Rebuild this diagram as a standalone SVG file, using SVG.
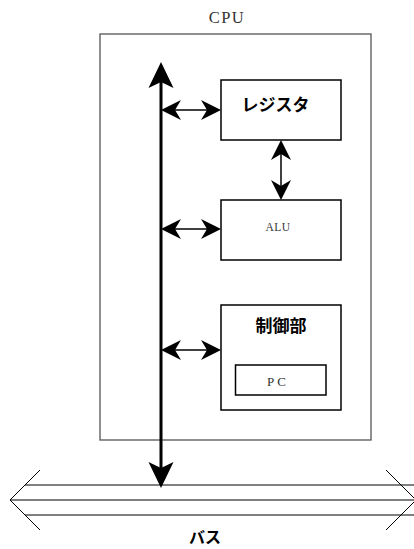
<svg xmlns="http://www.w3.org/2000/svg" width="414" height="549" viewBox="0 0 414 549">
<style>
.box{fill:#fff;stroke:#000;stroke-width:1.5}
.cpu{fill:none;stroke:#555;stroke-width:1.3}
.mono{font-family:'Liberation Serif',serif;fill:#333;text-anchor:middle}
.jp{font-family:'Noto Sans CJK JP',sans-serif;font-weight:bold;fill:#000;text-anchor:middle}
.thin{stroke:#000;stroke-width:1.5;fill:none}
.thick{stroke:#000;stroke-width:3;fill:none}
.bus{stroke:#000;stroke-width:1;fill:none}
</style>
<defs>
<marker id="ah" markerUnits="userSpaceOnUse" viewBox="-1 -11 22 22" markerWidth="22" markerHeight="22" refX="16" refY="0" orient="auto-start-reverse">
<path d="M0,-10 L20,0 L0,10 L6,0 Z" fill="#000"/>
</marker>
<marker id="ahb" markerUnits="userSpaceOnUse" viewBox="-1 -14 28 28" markerWidth="28" markerHeight="28" refX="22" refY="0" orient="auto-start-reverse">
<path d="M0,-12.5 L26,0 L0,12.5 L6,0 Z" fill="#000"/>
</marker>
</defs>
<g id="cpu">
<rect class="cpu" x="100" y="34" width="271" height="406"/>
<text class="mono" x="227" y="23" font-size="16.5" letter-spacing="1.5">CPU</text>
</g>
<g id="register">
<rect class="box" x="221" y="80" width="120" height="60"/>
<text class="jp" x="275.5" y="111" font-size="17">レジスタ</text>
</g>
<g id="alu">
<rect class="box" x="221" y="200" width="120" height="60"/>
<text class="mono" x="278" y="231" font-size="11.5" letter-spacing="0.5">ALU</text>
</g>
<g id="control">
<rect class="box" x="221" y="305" width="120" height="105"/>
<text class="jp" x="281" y="332" font-size="17">制御部</text>
</g>
<g id="pc">
<rect class="box" x="235.5" y="365" width="90.5" height="30"/>
<text class="mono" x="278" y="386" font-size="13" letter-spacing="3">PC</text>
</g>
<g id="bus">
<path class="bus" d="M40,470 L10,500 L40,530 M386,470 L414,498 M386,530 L414,502"/>
<path class="bus" d="M25,485 H414 M10,500 H414 M25,515 H414"/>
<text class="jp" x="205" y="543" font-size="16">バス</text>
</g>
<g id="connectors">
<line class="thick" x1="161" y1="66" x2="161" y2="484" marker-start="url(#ahb)" marker-end="url(#ahb)"/>
<line class="thin" x1="165" y1="110" x2="217" y2="110" marker-start="url(#ah)" marker-end="url(#ah)"/>
<line class="thin" x1="165" y1="229" x2="217" y2="229" marker-start="url(#ah)" marker-end="url(#ah)"/>
<line class="thin" x1="165" y1="350" x2="217" y2="350" marker-start="url(#ah)" marker-end="url(#ah)"/>
<line class="thin" x1="281" y1="144" x2="281" y2="196" marker-start="url(#ah)" marker-end="url(#ah)"/>
</g>
</svg>
